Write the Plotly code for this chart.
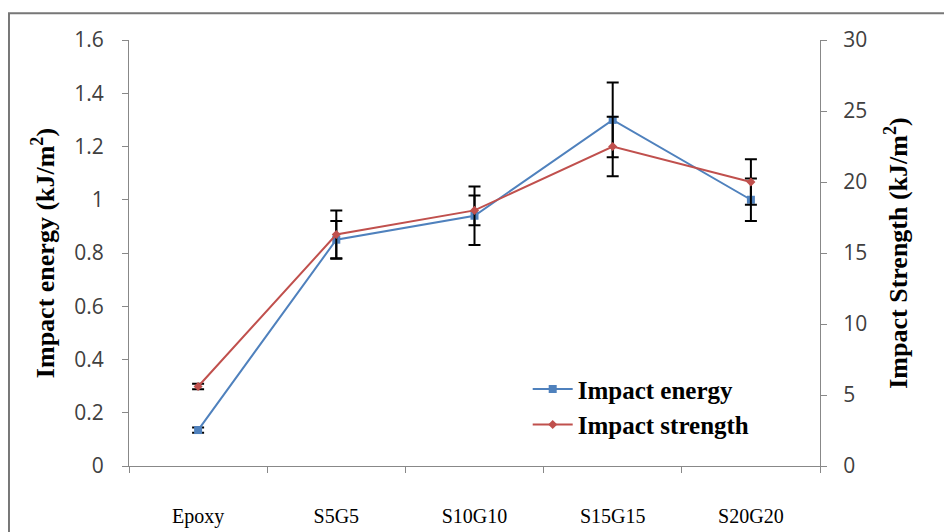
import plotly.graph_objects as go

categories = ["Epoxy", "S5G5", "S10G10", "S15G15", "S20G20"]
impact_energy = [0.135, 0.85, 0.94, 1.30, 1.00]
impact_energy_err = [0.01, 0.07, 0.11, 0.14, 0.08]
impact_strength = [5.6, 16.3, 18.0, 22.5, 20.0]
impact_strength_err = [0.2, 1.7, 1.05, 2.1, 1.6]

BLUE = "#4F81BD"
RED = "#C0504D"

fig = go.Figure()
fig.add_trace(go.Scatter(
    x=categories, y=impact_energy, name="Impact energy",
    mode="lines+markers",
    line=dict(color=BLUE, width=2),
    marker=dict(symbol="square", size=8, color=BLUE),
    error_y=dict(type="data", array=impact_energy_err, color="black", thickness=2, width=6),
))
fig.add_trace(go.Scatter(
    x=categories, y=impact_strength, name="Impact strength", yaxis="y2",
    mode="lines+markers",
    line=dict(color=RED, width=2),
    marker=dict(symbol="diamond", size=7, color=RED),
    error_y=dict(type="data", array=impact_strength_err, color="black", thickness=2, width=6),
))

tickfont = dict(family="Open Sans, sans-serif", size=21, color="#404040")
titlefont = dict(family="Liberation Serif, Times New Roman, serif", size=26, color="black")

fig.update_layout(
    width=952, height=532,
    margin=dict(l=121, r=140, t=32, b=72),
    paper_bgcolor="white", plot_bgcolor="white",
    showlegend=True,
    legend=dict(
        x=0.577, y=0.139, xanchor="left", yanchor="middle",
        font=dict(family="Liberation Serif, Times New Roman, serif", size=25, color="black", weight="bold"),
        bgcolor="rgba(0,0,0,0)", tracegroupgap=0, itemwidth=40,
    ),
    xaxis=dict(
        type="category", tickson="boundaries", ticks="outside", ticklen=6,
        tickcolor="#888", showline=True, linecolor="#888", linewidth=1,
        showgrid=False, zeroline=False,
        tickfont=dict(family="Liberation Serif, Times New Roman, serif", size=20, color="black"),
        ticklabelstandoff=32, range=[-0.5, 4.5],
    ),
    yaxis=dict(
        range=[0, 1.6], dtick=0.2, showline=True, linecolor="#888", linewidth=1,
        ticks="outside", ticklen=6, tickcolor="#888", showgrid=False, zeroline=False,
        tickfont=tickfont, ticklabelstandoff=14,
        title=dict(text="<b>Impact energy (kJ/m<sup>2</sup>)</b>", font=titlefont, standoff=12),
    ),
    yaxis2=dict(
        range=[0, 30], dtick=5, overlaying="y", side="right",
        showline=True, linecolor="#888", linewidth=1,
        ticks="outside", ticklen=6, tickcolor="#888", showgrid=False, zeroline=False,
        tickfont=tickfont, ticklabelstandoff=12,
        title=dict(text="<b>Impact Strength (kJ/m<sup>2</sup>)</b>", font=titlefont, standoff=22),
    ),
    shapes=[dict(type="rect", xref="paper", yref="paper",
                 x0=-0.1737, x1=1.3, y0=-0.3, y1=1.063,
                 line=dict(color="#777", width=2), fillcolor="rgba(0,0,0,0)", layer="below")],
)

fig.write_html("out.html")
